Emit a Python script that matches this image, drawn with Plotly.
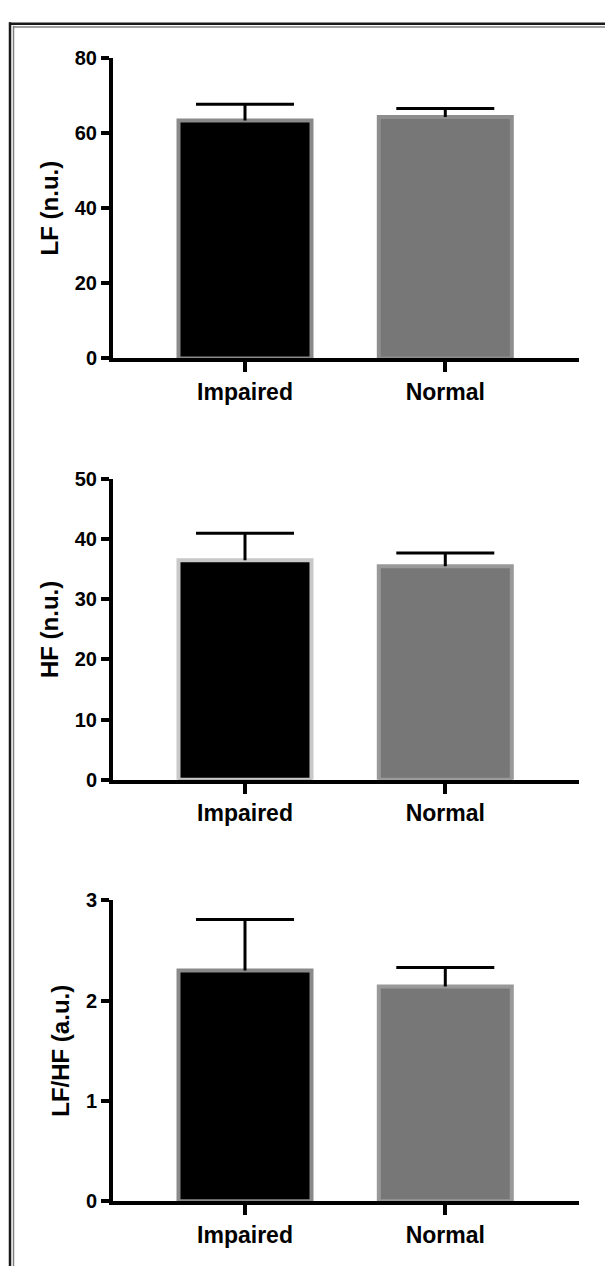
import plotly.graph_objects as go

# ---------------- data ----------------
categories = ["Impaired", "Normal"]

lf_mean = [63.3, 64.2]
lf_sem = [4.3, 2.3]

hf_mean = [36.5, 35.5]
hf_sem = [4.5, 2.2]

ratio_mean = [2.30, 2.14]
ratio_sem = [0.51, 0.19]

lf_ticks = [0, 20, 40, 60, 80]
hf_ticks = [0, 10, 20, 30, 40, 50]
ratio_ticks = [0, 1, 2, 3]

titles = ["LF (n.u.)", "HF (n.u.)", "LF/HF (a.u.)"]

# ---------------- styling ----------------
W, H = 605, 1277
FONT = "Liberation Sans, Arial, sans-serif"
fills = ["#000000", "#777777"]
outlines = [["#8a8a8a", "#8e8e8e"], ["#c8c8c8", "#999999"], ["#8a8a8a", "#999999"]]

# pixel layout (top, bottom) of each panel's plotting area
panel_px = [(47.5, 353.5), (476.25, 782.25), (905, 1211)]
x_px = (113, 579)


def py(p):
    return 1 - p / H


fig = go.Figure()

series = [
    (lf_mean, lf_sem, lf_ticks),
    (hf_mean, hf_sem, hf_ticks),
    (ratio_mean, ratio_sem, ratio_ticks),
]

layout_axes = {}
for i, (means, sems, ticks) in enumerate(series):
    sfx = "" if i == 0 else str(i + 1)
    fig.add_trace(
        go.Bar(
            x=categories,
            y=means,
            width=0.664,
            marker=dict(color=fills, line=dict(color=outlines[i], width=4)),
            xaxis="x" + sfx,
            yaxis="y" + sfx,
            showlegend=False,
            hoverinfo="x+y",
        )
    )
    # upper error bars: cap drawn as a horizontal line marker, stem as error bar
    tops = [m + s for m, s in zip(means, sems)]
    fig.add_trace(
        go.Scatter(
            x=categories,
            y=tops,
            mode="markers",
            marker=dict(symbol="line-ew", size=70, color="black",
                        line=dict(color="black", width=3)),
            error_y=dict(
                type="data",
                symmetric=False,
                array=[0] * len(sems),
                arrayminus=sems,
                color="black",
                thickness=3,
                width=0,
            ),
            xaxis="x" + sfx,
            yaxis="y" + sfx,
            showlegend=False,
            hoverinfo="skip",
        )
    )
    top, bot = panel_px[i]
    layout_axes["xaxis" + sfx] = dict(
        domain=[x_px[0] / W, x_px[1] / W],
        anchor="y" + sfx,
        range=[-0.659, 1.6675],
        showline=True,
        linecolor="black",
        linewidth=4,
        ticks="outside",
        ticklen=10,
        tickwidth=4,
        tickcolor="black",
        tickfont=dict(family=FONT, size=23, color="black", weight="bold"),
        showgrid=False,
        zeroline=False,
        fixedrange=True,
    )
    layout_axes["yaxis" + sfx] = dict(
        domain=[py(bot), py(top)],
        anchor="x" + sfx,
        range=[0, ticks[-1]],
        tickvals=ticks,
        showline=True,
        linecolor="black",
        linewidth=4,
        ticks="outside",
        ticklen=8,
        tickwidth=4,
        tickcolor="black",
        tickfont=dict(family=FONT, size=20, color="black", weight="bold"),
        title=dict(
            text=titles[i],
            font=dict(family=FONT, size=24, color="black", weight="bold"),
            standoff=10,
        ),
        showgrid=False,
        zeroline=False,
        fixedrange=True,
    )

# double frame lines (top and left)
shapes = [
    dict(type="line", xref="paper", yref="paper", x0=10 / W, x1=10 / W, y0=py(11.5), y1=0,
         line=dict(color="#1a1a1a", width=2.5)),
    dict(type="line", xref="paper", yref="paper", x0=13.5 / W, x1=13.5 / W, y0=py(15), y1=0,
         line=dict(color="#808080", width=1.5)),
    dict(type="line", xref="paper", yref="paper", x0=9 / W, x1=1, y0=py(13), y1=py(13),
         line=dict(color="#1a1a1a", width=2.5)),
    dict(type="line", xref="paper", yref="paper", x0=13 / W, x1=1, y0=py(16.3), y1=py(16.3),
         line=dict(color="#808080", width=1.5)),
]

fig.update_layout(
    width=W,
    height=H,
    autosize=False,
    margin=dict(l=0, r=0, t=0, b=0),
    paper_bgcolor="white",
    plot_bgcolor="white",
    font=dict(family=FONT, color="black"),
    shapes=shapes,
    **layout_axes,
)

fig.write_html(
    "out.html",
    config={"displayModeBar": False},
    post_script="document.body.style.margin='0px';",
)
